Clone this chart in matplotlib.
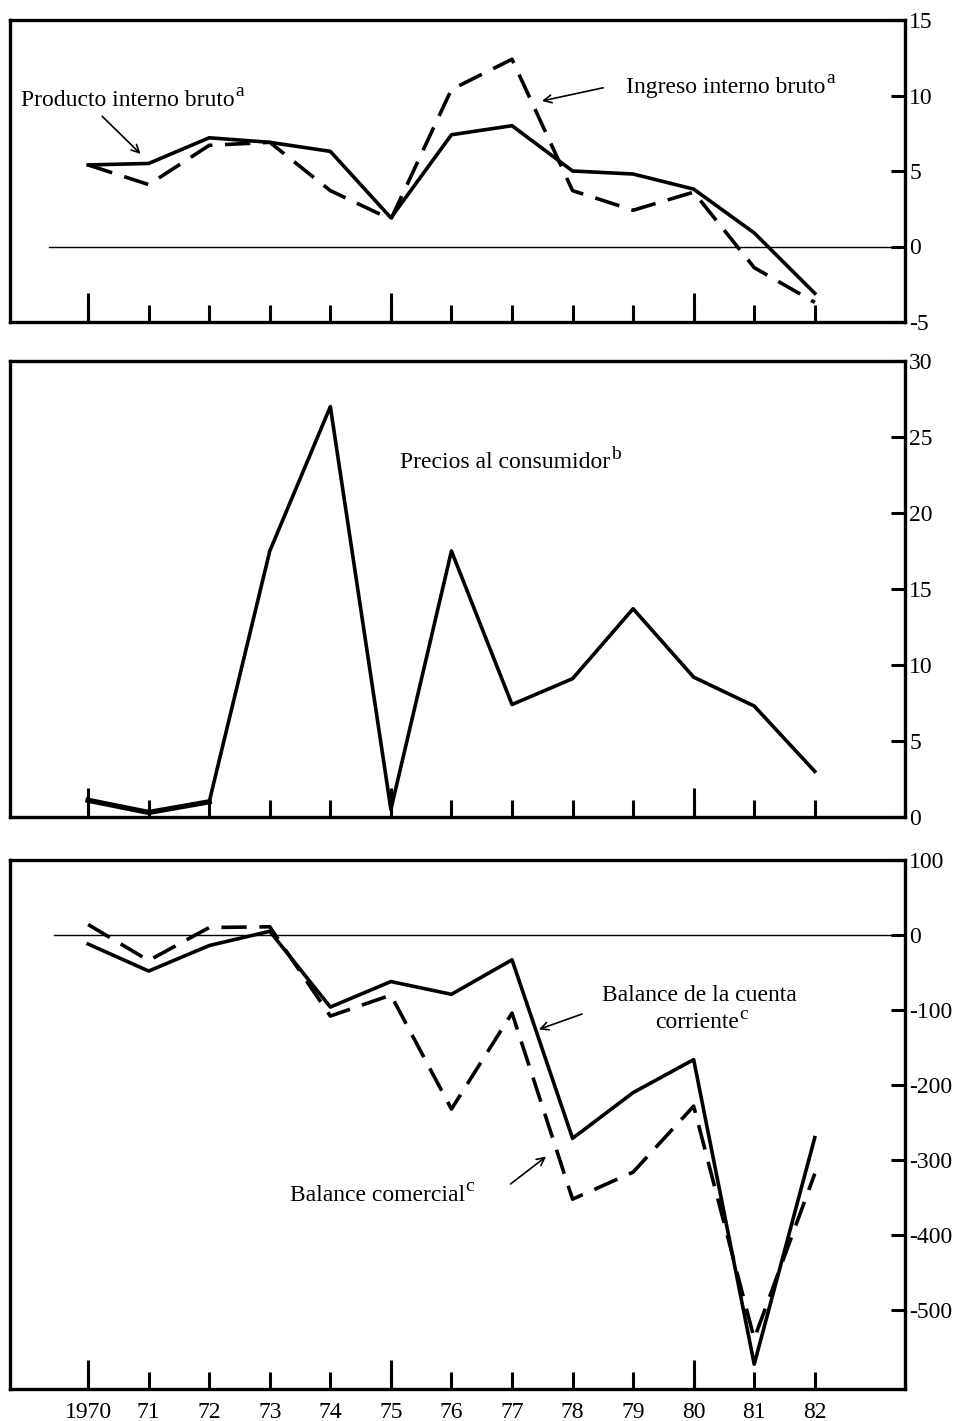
import numpy as np
import matplotlib
matplotlib.use("Agg")
import matplotlib.pyplot as plt

plt.rcParams['font.family'] = ['Liberation Serif', 'DejaVu Serif']
plt.rcParams['axes.unicode_minus'] = False

# Datos (tasas y saldos anuales)
anios = np.arange(1970, 1983)
etiquetas_anios = ['1970', '71', '72', '73', '74', '75', '76', '77', '78', '79', '80', '81', '82']

pib = [5.4, 5.5, 7.2, 6.9, 6.3, 1.9, 7.4, 8.0, 5.0, 4.8, 3.8, 0.9, -3.1]
ingreso = [5.4, 4.1, 6.7, 6.9, 3.7, 1.8, 10.4, 12.4, 3.7, 2.4, 3.6, -1.4, -3.7]

precios = [1.1, 0.3, 1.0, 17.5, 27.0, 0.5, 17.5, 7.4, 9.1, 13.7, 9.2, 7.3, 3.0]

cuenta_corriente = [-12, -48, -14, 5, -96, -62, -79, -33, -271, -210, -166, -572, -270]
comercial = [14, -34, 10, 11, -108, -80, -232, -104, -352, -316, -228, -538, -318]

ticks_p1 = [-5, 0, 5, 10, 15]
ticks_p2 = [0, 5, 10, 15, 20, 25, 30]
ticks_p3 = [-500, -400, -300, -200, -100, 0, 100]

fig = plt.figure(figsize=(9.68, 14.21), dpi=100)

izq = 10 / 968
ancho = 895 / 968
ax1 = fig.add_axes([izq, 1 - 322 / 1421, ancho, 302 / 1421])
ax2 = fig.add_axes([izq, 1 - 817 / 1421, ancho, 456 / 1421])
ax3 = fig.add_axes([izq, 1 - 1389 / 1421, ancho, 529 / 1421])

lw = 2.6
guiones = (7, 3.5)
flecha = dict(arrowstyle='->', color='black', lw=1.2, mutation_scale=14)


def preparar(ax, yticks, ylim):
    ax.set_xlim(1968.71, 1983.49)
    ax.set_ylim(*ylim)
    for s in ax.spines.values():
        s.set_linewidth(2.4)
    ax.yaxis.tick_right()
    ax.set_yticks(yticks)
    ax.set_yticklabels([str(t) for t in yticks])
    ax.tick_params(axis='y', direction='in', length=10, width=2.2, pad=3, labelsize=17)
    # marcas de anio: cortas para todos, largas en 1970, 75, 80
    ax.set_xticks(anios)
    ax.set_xticks([1970, 1975, 1980], minor=True)
    ax.xaxis.remove_overlapping_locs = False
    ax.tick_params(axis='x', which='major', direction='in', length=12, width=2.2, pad=9, labelsize=17)
    ax.tick_params(axis='x', which='minor', direction='in', length=21, width=2.2)
    ax.tick_params(axis='y', which='minor', length=0)


def texto(ax, x, y, s, sup, **kw):
    # texto con letra de nota en superindice
    t = ax.text(x, y, s, fontsize=17, va='center', **kw)
    ax.annotate(sup, xy=(1.0, 0.5), xycoords=t, xytext=(0.5, 0), textcoords='offset points',
                fontsize=14, va='bottom', ha='left')
    return t


# --- Panel 1: PIB e ingreso ---
preparar(ax1, ticks_p1, (-5, 15))
ax1.set_xticklabels([])
ax1.plot([1969.35, 1983.49], [0, 0], color='black', lw=1)
ax1.plot(anios, pib, color='black', lw=lw)
ax1.plot(anios, ingreso, color='black', lw=lw, dashes=guiones)
texto(ax1, 1968.89, 9.7, 'Producto interno bruto', 'a', ha='left')
ax1.annotate('', xy=(1970.9, 6.0), xytext=(1970.2, 8.75), arrowprops=flecha)
texto(ax1, 1978.89, 10.55, 'Ingreso interno bruto', 'a', ha='left')
ax1.annotate('', xy=(1977.45, 9.6), xytext=(1978.55, 10.55), arrowprops=flecha)

# --- Panel 2: precios al consumidor ---
preparar(ax2, ticks_p2, (0, 30))
ax2.set_xticklabels([])
ax2.plot(anios, precios, color='black', lw=lw)
ax2.plot(anios[:3], precios[:3], color='black', lw=3.8)
texto(ax2, 1975.15, 23.3, 'Precios al consumidor', 'b', ha='left')

# --- Panel 3: balances ---
preparar(ax3, ticks_p3, (-605, 100))
ax3.set_xticklabels(etiquetas_anios)
ax3.plot([1969.44, 1983.49], [0, 0], color='black', lw=1)
ax3.plot(anios, cuenta_corriente, color='black', lw=lw)
ax3.plot(anios, comercial, color='black', lw=lw, dashes=guiones)
ax3.text(1980.1, -80, 'Balance de la cuenta', fontsize=17, va='center', ha='center')
texto(ax3, 1980.05, -117, 'corriente', 'c', ha='center')
ax3.annotate('', xy=(1977.4, -127), xytext=(1978.2, -104), arrowprops=flecha)
texto(ax3, 1973.33, -347, 'Balance comercial', 'c', ha='left')
ax3.annotate('', xy=(1977.6, -293), xytext=(1976.94, -334), arrowprops=flecha)

plt.savefig('out.png', dpi=100)
